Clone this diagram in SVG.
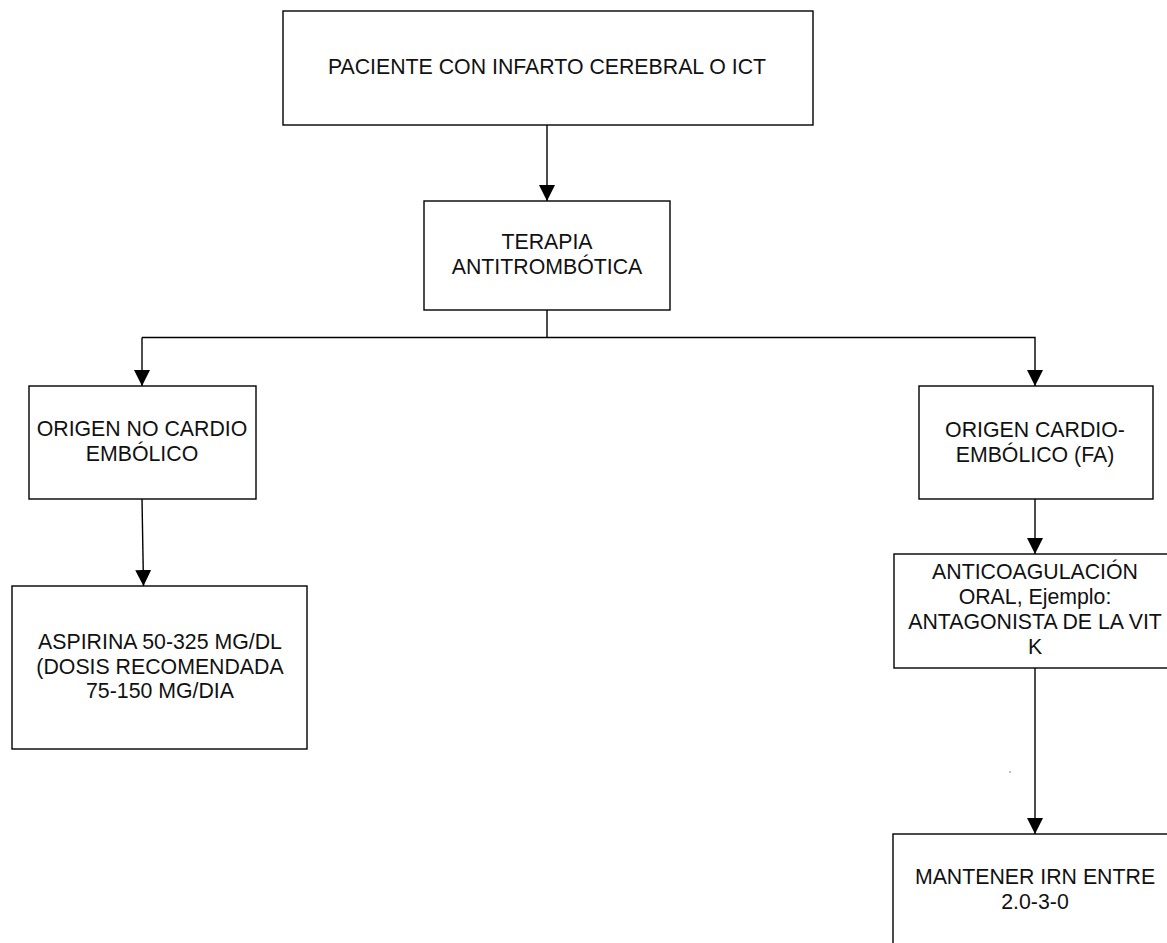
<svg xmlns="http://www.w3.org/2000/svg" width="1167" height="943" viewBox="0 0 1167 943">
  <style>
    .box { fill: #ffffff; stroke: #000000; stroke-width: 1.4; }
    .lbl { font-family: "Liberation Sans", Arial, sans-serif; font-size: 21.3px; fill: #111111; text-anchor: middle; }
    .wire { fill: none; stroke: #000000; stroke-width: 1.4; }
  </style>
  <defs>
    <marker id="arrow" markerUnits="userSpaceOnUse" markerWidth="16" markerHeight="16" viewBox="0 0 14 14" refX="14" refY="7" orient="auto">
      <path d="M0,0 L14,7 L0,14 Z" fill="#000000"/>
    </marker>
  </defs>
  <rect width="1167" height="943" fill="#ffffff"/>

  <!-- connectors -->
  <g id="connectors">
    <line class="wire" x1="547" y1="125" x2="547" y2="201" marker-end="url(#arrow)"/>
    <polyline class="wire" points="547,310 547,337.5"/>
    <polyline class="wire" points="142,337.5 1035,337.5 1035,386" marker-end="url(#arrow)"/>
    <line class="wire" x1="142" y1="337.5" x2="142" y2="386" marker-end="url(#arrow)"/>
    <line class="wire" x1="142" y1="499" x2="143.5" y2="586" marker-end="url(#arrow)"/>
    <line class="wire" x1="1035" y1="499" x2="1035" y2="554" marker-end="url(#arrow)"/>
    <line class="wire" x1="1035" y1="668" x2="1035" y2="834" marker-end="url(#arrow)"/>
    <circle cx="1010" cy="772" r="0.7" fill="#555555"/>
  </g>

  <g id="paciente">
    <rect class="box" x="283" y="11" width="530" height="114"/>
    <text class="lbl" x="547" y="74">PACIENTE CON INFARTO CEREBRAL O ICT</text>
  </g>

  <g id="terapia">
    <rect class="box" x="424" y="201" width="246" height="109"/>
    <text class="lbl" x="547" y="249">TERAPIA</text>
    <text class="lbl" x="547" y="274">ANTITROMBÓTICA</text>
  </g>

  <g id="no-cardio">
    <rect class="box" x="29" y="386" width="227" height="113"/>
    <text class="lbl" x="142" y="436">ORIGEN NO CARDIO</text>
    <text class="lbl" x="142" y="461">EMBÓLICO</text>
  </g>

  <g id="aspirina">
    <rect class="box" x="12" y="586" width="295" height="163"/>
    <text class="lbl" x="160" y="649">ASPIRINA 50-325 MG/DL</text>
    <text class="lbl" x="160" y="674">(DOSIS RECOMENDADA</text>
    <text class="lbl" x="160" y="698">75-150 MG/DIA</text>
  </g>

  <g id="cardio">
    <rect class="box" x="919" y="386" width="234" height="113"/>
    <text class="lbl" x="1035" y="437">ORIGEN CARDIO-</text>
    <text class="lbl" x="1035" y="462">EMBÓLICO (FA)</text>
  </g>

  <g id="anticoagulacion">
    <rect class="box" x="894" y="554" width="282" height="114"/>
    <text class="lbl" x="1035" y="579">ANTICOAGULACIÓN</text>
    <text class="lbl" x="1035" y="604">ORAL, Ejemplo:</text>
    <text class="lbl" x="1035" y="629">ANTAGONISTA DE LA VIT</text>
    <text class="lbl" x="1035" y="654">K</text>
  </g>

  <g id="mantener">
    <rect class="box" x="893" y="834" width="290" height="130"/>
    <text class="lbl" x="1035" y="884">MANTENER IRN ENTRE</text>
    <text class="lbl" x="1035" y="909">2.0-3-0</text>
  </g>
</svg>
